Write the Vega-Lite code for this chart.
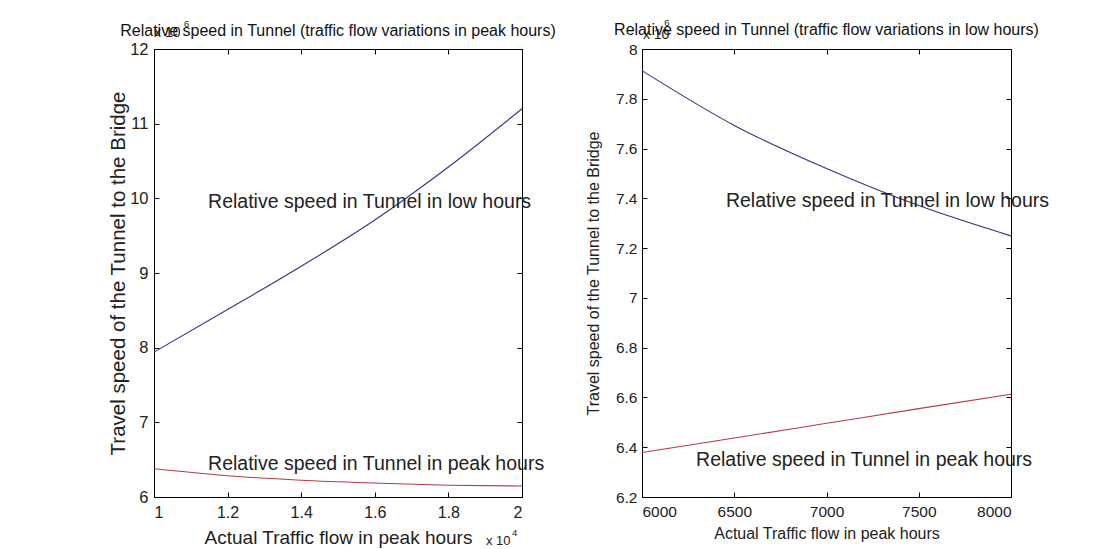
{
  "$schema": "https://vega.github.io/schema/vega-lite/v6.json",
  "background": "white",
  "padding": {"left": 108, "top": 18, "right": 5, "bottom": 0},
  "spacing": 29,
  "config": {
    "font": "Liberation Sans",
    "view": {"stroke": null},
    "axis": {"grid": false, "domainColor": "#000", "tickColor": "#000", "labelColor": "#222", "titleColor": "#222", "titleFontWeight": "normal", "labelFont": "Liberation Sans", "titleFont": "Liberation Sans", "domainWidth": 1, "tickWidth": 1},
    "title": {"font": "Liberation Sans", "fontWeight": "normal", "color": "#111"}
  },
  "datasets": {
    "left": [
      {"x": 1.0, "y": 7.94, "series": "low"},
      {"x": 1.2, "y": 8.51, "series": "low"},
      {"x": 1.4, "y": 9.09, "series": "low"},
      {"x": 1.6, "y": 9.71, "series": "low"},
      {"x": 1.8, "y": 10.42, "series": "low"},
      {"x": 2.0, "y": 11.2, "series": "low"},
      {"x": 1.0, "y": 6.378, "series": "peak"},
      {"x": 1.2, "y": 6.285, "series": "peak"},
      {"x": 1.4, "y": 6.225, "series": "peak"},
      {"x": 1.6, "y": 6.187, "series": "peak"},
      {"x": 1.8, "y": 6.158, "series": "peak"},
      {"x": 2.0, "y": 6.147, "series": "peak"}
    ],
    "right": [
      {"x": 6000, "y": 7.913, "series": "low"},
      {"x": 6500, "y": 7.693, "series": "low"},
      {"x": 7000, "y": 7.52, "series": "low"},
      {"x": 7500, "y": 7.371, "series": "low"},
      {"x": 8000, "y": 7.249, "series": "low"},
      {"x": 6000, "y": 6.379, "series": "peak"},
      {"x": 6500, "y": 6.437, "series": "peak"},
      {"x": 7000, "y": 6.496, "series": "peak"},
      {"x": 7500, "y": 6.555, "series": "peak"},
      {"x": 8000, "y": 6.613, "series": "peak"}
    ],
    "leftText": [
      {"x": 1.147, "y": 9.95, "label": "Relative speed in Tunnel in low hours"},
      {"x": 1.147, "y": 6.44, "label": "Relative speed in Tunnel in peak hours"}
    ],
    "leftExp": [
      {"x": 1.0, "y": 12.213, "label": "x 10"}
    ],
    "leftSup": [
      {"x": 1.0815, "y": 12.34, "label": "6"},
      {"x": 1.973, "y": 5.52, "label": "4"}
    ],
    "leftExpBottom": [
      {"x": 1.902, "y": 5.413, "label": "x 10"}
    ],
    "rightText": [
      {"x": 6455, "y": 7.39, "label": "Relative speed in Tunnel in low hours"},
      {"x": 6293, "y": 6.35, "label": "Relative speed in Tunnel in peak hours"}
    ],
    "rightExp": [
      {"x": 6005, "y": 8.056, "label": "x 10"}
    ],
    "rightSup": [
      {"x": 6120, "y": 8.104, "label": "6"}
    ]
  },
  "hconcat": [
    {
      "width": 368,
      "height": 448,
      "title": {"text": "Relative speed in Tunnel (traffic flow variations in peak hours)", "fontSize": 16, "offset": -20},
      "layer": [
        {
          "layer": [
            {
              "data": {"name": "left"},
              "mark": {"type": "line", "strokeWidth": 1.1, "interpolate": "monotone"},
              "encoding": {
                "x": {"field": "x", "type": "quantitative", "scale": {"domain": [1, 2], "nice": false, "zero": false}, "axis": {"title": "Actual Traffic flow in peak hours", "values": [1, 1.2, 1.4, 1.6, 1.8, 2], "format": "~g", "tickSize": -5, "labelFontSize": 16, "titleFontSize": 19, "labelPadding": 12, "titlePadding": 8}},
                "y": {"field": "y", "type": "quantitative", "scale": {"domain": [6, 12], "nice": false, "zero": false}, "axis": {"title": "Travel speed of the Tunnel to the Bridge", "values": [6, 7, 8, 9, 10, 11, 12], "format": "~g", "tickSize": -5, "labelFontSize": 16.5, "titleFontSize": 20.5, "labelPadding": 11, "titlePadding": 1}},
                "color": {"field": "series", "type": "nominal", "scale": {"domain": ["low", "peak"], "range": ["#30348c", "#b63a46"]}, "legend": null}
              }
            },
            {
              "data": {"name": "leftText"},
              "mark": {"type": "text", "align": "left", "baseline": "middle", "fontSize": 19.5, "color": "#222"},
              "encoding": {"x": {"field": "x", "type": "quantitative"}, "y": {"field": "y", "type": "quantitative"}, "text": {"field": "label"}}
            },
            {
              "data": {"name": "leftExp"},
              "mark": {"type": "text", "align": "left", "baseline": "middle", "fontSize": 14, "color": "#222"},
              "encoding": {"x": {"field": "x", "type": "quantitative"}, "y": {"field": "y", "type": "quantitative"}, "text": {"field": "label"}}
            },
            {
              "data": {"name": "leftExpBottom"},
              "mark": {"type": "text", "align": "left", "baseline": "middle", "fontSize": 13, "color": "#222"},
              "encoding": {"x": {"field": "x", "type": "quantitative"}, "y": {"field": "y", "type": "quantitative"}, "text": {"field": "label"}}
            },
            {
              "data": {"name": "leftSup"},
              "mark": {"type": "text", "align": "left", "baseline": "middle", "fontSize": 9.5, "color": "#222"},
              "encoding": {"x": {"field": "x", "type": "quantitative"}, "y": {"field": "y", "type": "quantitative"}, "text": {"field": "label"}}
            }
          ]
        },
        {
          "data": {"name": "left"},
          "mark": {"type": "line", "opacity": 0},
          "encoding": {
            "x": {"field": "x", "type": "quantitative", "scale": {"domain": [1, 2], "nice": false, "zero": false}, "axis": {"orient": "top", "title": null, "labels": false, "values": [1, 1.2, 1.4, 1.6, 1.8, 2], "tickSize": -5}},
            "y": {"field": "y", "type": "quantitative", "scale": {"domain": [6, 12], "nice": false, "zero": false}, "axis": {"orient": "right", "title": null, "labels": false, "values": [6, 7, 8, 9, 10, 11, 12], "tickSize": -5}}
          }
        }
      ],
      "resolve": {"scale": {"x": "independent", "y": "independent"}}
    },
    {
      "width": 369,
      "height": 448,
      "title": {"text": "Relative speed in Tunnel (traffic flow variations in low hours)", "fontSize": 16, "offset": -20},
      "layer": [
        {
          "layer": [
            {
              "data": {"name": "right"},
              "mark": {"type": "line", "strokeWidth": 1.1, "interpolate": "monotone"},
              "encoding": {
                "x": {"field": "x", "type": "quantitative", "scale": {"domain": [6000, 8000], "nice": false, "zero": false}, "axis": {"title": "Actual Traffic flow in peak hours", "values": [6000, 6500, 7000, 7500, 8000], "format": "d", "tickSize": -5, "labelFontSize": 15.5, "titleFontSize": 16, "labelPadding": 12, "titlePadding": 6}},
                "y": {"field": "y", "type": "quantitative", "scale": {"domain": [6.2, 8], "nice": false, "zero": false}, "axis": {"title": "Travel speed of the Tunnel to the Bridge", "values": [6.2, 6.4, 6.6, 6.8, 7, 7.2, 7.4, 7.6, 7.8, 8], "format": "~g", "tickSize": -5, "labelFontSize": 15.5, "titleFontSize": 16, "labelPadding": 10, "titlePadding": 14}},
                "color": {"field": "series", "type": "nominal", "scale": {"domain": ["low", "peak"], "range": ["#30348c", "#b63a46"]}, "legend": null}
              }
            },
            {
              "data": {"name": "rightText"},
              "mark": {"type": "text", "align": "left", "baseline": "middle", "fontSize": 19.5, "color": "#222"},
              "encoding": {"x": {"field": "x", "type": "quantitative"}, "y": {"field": "y", "type": "quantitative"}, "text": {"field": "label"}}
            },
            {
              "data": {"name": "rightExp"},
              "mark": {"type": "text", "align": "left", "baseline": "middle", "fontSize": 14, "color": "#222"},
              "encoding": {"x": {"field": "x", "type": "quantitative"}, "y": {"field": "y", "type": "quantitative"}, "text": {"field": "label"}}
            },
            {
              "data": {"name": "rightSup"},
              "mark": {"type": "text", "align": "left", "baseline": "middle", "fontSize": 9.5, "color": "#222"},
              "encoding": {"x": {"field": "x", "type": "quantitative"}, "y": {"field": "y", "type": "quantitative"}, "text": {"field": "label"}}
            }
          ]
        },
        {
          "data": {"name": "right"},
          "mark": {"type": "line", "opacity": 0},
          "encoding": {
            "x": {"field": "x", "type": "quantitative", "scale": {"domain": [6000, 8000], "nice": false, "zero": false}, "axis": {"orient": "top", "title": null, "labels": false, "values": [6000, 6500, 7000, 7500, 8000], "tickSize": -5}},
            "y": {"field": "y", "type": "quantitative", "scale": {"domain": [6.2, 8], "nice": false, "zero": false}, "axis": {"orient": "right", "title": null, "labels": false, "values": [6.2, 6.4, 6.6, 6.8, 7, 7.2, 7.4, 7.6, 7.8, 8], "tickSize": -5}}
          }
        }
      ],
      "resolve": {"scale": {"x": "independent", "y": "independent"}}
    }
  ]
}
